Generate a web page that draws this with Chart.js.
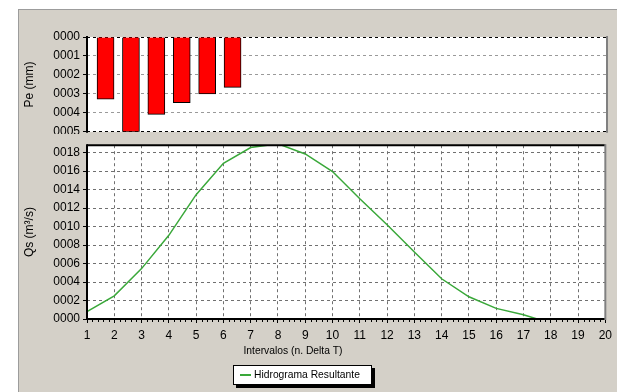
<!DOCTYPE html>
<html>
<head>
<meta charset="utf-8">
<script src="https://cdn.jsdelivr.net/npm/chart.js@4.4.1/dist/chart.umd.min.js"></script>
<style>
  body { margin: 0; background: #fff; width: 617px; height: 392px; overflow: hidden; position: relative; }
  #panel { position: absolute; left: 18px; top: 9px; right: 0; bottom: 0; background: #d4d0c8;
           border-top: 1px solid #9c9c9c; border-left: 1px solid #9c9c9c; }
  #topWrap { position: absolute; left: 0; top: 0; width: 617px; height: 134px; overflow: hidden; }
  #peChart { position: absolute; left: 0; top: 0; }
  #qsChart { position: absolute; left: 0; top: 135px; }
</style>
</head>
<body>
<div id="panel"></div>
<div id="topWrap"><canvas id="peChart" width="617" height="142"></canvas></div>
<canvas id="qsChart" width="617" height="257"></canvas>
<script>
// precipitation bars (top panel)
const peIntervals = [1, 2, 3, 4, 5, 6];
const peValues = [3.28, 5.0, 4.08, 3.47, 3.0, 2.66];
const peTickLabels = ["0000", "0001", "0002", "0003", "0004", "0005"];

// resulting hydrograph (bottom panel)
const qsIntervals = [1, 2, 3, 4, 5, 6, 7, 8, 9, 10, 11, 12, 13, 14, 15, 16, 17, 17.5];
const qsValues = [0.8, 2.5, 5.45, 9.05, 13.45, 16.85, 18.55, 18.95, 17.85, 15.95, 13.0, 10.2, 7.25, 4.35, 2.4, 1.15, 0.45, 0];
const qsTickLabels = ["0000", "0002", "0004", "0006", "0008", "0010", "0012", "0014", "0016", "0018"];

const xTitle = "Intervalos (n. Delta T)";
const seriesName = "Hidrograma Resultante";
const FONT = "'Liberation Sans', Arial, sans-serif";

Chart.defaults.font.family = FONT;
Chart.defaults.font.size = 12;
Chart.defaults.color = "#000";

const plotBackground = {
  id: "plotBackground",
  beforeDraw(chart) {
    const { ctx, chartArea: a } = chart;
    ctx.save();
    ctx.fillStyle = "#fff";
    ctx.fillRect(a.left, a.top, a.right - a.left, a.bottom - a.top);
    ctx.restore();
  }
};

function strokeLine(ctx, x1, y1, x2, y2, color) {
  ctx.strokeStyle = color;
  ctx.beginPath();
  ctx.moveTo(x1, y1);
  ctx.lineTo(x2, y2);
  ctx.stroke();
}

const plotFrame = {
  id: "plotFrame",
  afterDatasetsDraw(chart, args, opts) {
    const { ctx, chartArea: a } = chart;
    ctx.save();
    ctx.lineWidth = 2;
    if (opts.solidEdges) {
      strokeLine(ctx, a.left, a.top, a.right, a.top, "#000");
      strokeLine(ctx, a.left, a.bottom, a.right, a.bottom, "#000");
    }
    strokeLine(ctx, a.left, a.top - 1, a.left, a.bottom + 1, "#000");
    strokeLine(ctx, a.right, a.top - 1, a.right, a.bottom + 1, "#808080");
    ctx.restore();
  }
};

// small ticks between the interval numbers
const minorTicks = {
  id: "minorTicks",
  afterDraw(chart) {
    const { ctx, chartArea: a } = chart;
    const x = chart.scales.x;
    ctx.save();
    ctx.lineWidth = 1;
    ctx.strokeStyle = "#000";
    ctx.beginPath();
    for (let v = x.min; v < x.max; v++) {
      for (let k = 1; k < 5; k++) {
        const px = Math.round(x.getPixelForValue(v + k / 5)) + 0.5;
        ctx.moveTo(px, a.bottom);
        ctx.lineTo(px, a.bottom + 3);
      }
    }
    ctx.stroke();
    ctx.restore();
  }
};

// axis caption and boxed legend under the plot
const footer = {
  id: "footer",
  afterDraw(chart, args, opts) {
    const ctx = chart.ctx;
    const ds = chart.data.datasets[0];
    ctx.save();
    ctx.font = "10.3px " + FONT;
    ctx.fillStyle = "#000";
    ctx.textAlign = "center";
    ctx.textBaseline = "middle";
    ctx.fillText(opts.title, opts.titleX, opts.titleY);

    const w = Math.round(ctx.measureText(ds.label).width) + 33;
    const h = 20;
    const left = opts.legendX, top = opts.legendY;
    ctx.fillStyle = "#000";
    ctx.fillRect(left + 3, top + 3, w, h);
    ctx.fillStyle = "#fff";
    ctx.fillRect(left, top, w, h);
    ctx.lineWidth = 1;
    ctx.strokeStyle = "#000";
    ctx.strokeRect(left + 0.5, top + 0.5, w - 1, h - 1);
    ctx.lineWidth = 2;
    strokeLine(ctx, left + 7, top + h / 2, left + 18, top + h / 2, ds.borderColor);
    ctx.fillStyle = "#000";
    ctx.textAlign = "left";
    ctx.fillText(ds.label, left + 21, top + h / 2 + 0.5);
    ctx.restore();
  }
};

const peChart = new Chart(document.getElementById("peChart"), {
  type: "bar",
  data: {
    datasets: [{
      label: "Pe",
      data: peIntervals.map((x, i) => ({ x, y: peValues[i] })),
      backgroundColor: "#ff0000",
      borderColor: "#000",
      borderWidth: 1,
      barThickness: 17
    }]
  },
  options: {
    responsive: false,
    animation: false,
    devicePixelRatio: 1,
    layout: { padding: { top: 37, right: 10, bottom: 9, left: 0 } },
    plugins: { legend: { display: false }, tooltip: { enabled: false }, plotFrame: { solidEdges: false } },
    scales: {
      x: { type: "linear", min: 0.27, max: 20.74, offset: false, display: false },
      y: {
        min: 0, max: 5, reverse: true,
        afterFit: s => { s.width = 87; },
        border: { display: false, dash: [3, 3] },
        grid: {
          color: c => (c.tick && (c.tick.value === 0 || c.tick.value === 5)) ? "#000" : "#9a9a9a",
          tickColor: "#000", tickLength: 4, tickBorderDash: []
        },
        ticks: { stepSize: 1, padding: 3, callback: v => peTickLabels[v] },
        title: { display: true, text: "Pe (mm)", padding: { top: 22, bottom: 0 } }
      }
    }
  },
  plugins: [plotBackground, plotFrame]
});

const qsChart = new Chart(document.getElementById("qsChart"), {
  type: "line",
  data: {
    datasets: [{
      label: seriesName,
      data: qsIntervals.map((x, i) => ({ x, y: qsValues[i] })),
      borderColor: "#3aa83a",
      borderWidth: 1.5,
      pointRadius: 0,
      tension: 0,
      fill: false
    }]
  },
  options: {
    responsive: false,
    animation: false,
    devicePixelRatio: 1,
    layout: { padding: { top: 8, right: 10, bottom: 28, left: 0 } },
    plugins: {
      legend: { display: false },
      tooltip: { enabled: false },
      plotFrame: { solidEdges: true },
      footer: { title: xTitle, titleX: 293, titleY: 216, legendX: 233, legendY: 230 }
    },
    scales: {
      x: {
        type: "linear", min: 1, max: 20,
        afterFit: s => { s.height = 45; },
        border: { display: false, dash: [3, 3] },
        grid: { color: "#707070", tickColor: "#000", tickLength: 4, tickBorderDash: [] },
        ticks: { stepSize: 1, padding: 5, maxRotation: 0, autoSkip: false }
      },
      y: {
        min: 0, max: 18.8,
        afterFit: s => { s.width = 87; },
        border: { display: false, dash: [3, 3] },
        grid: { color: "#707070", tickColor: "#000", tickLength: 4, tickBorderDash: [] },
        ticks: { stepSize: 2, includeBounds: false, padding: 3, callback: v => qsTickLabels[Math.round(v / 2)] },
        title: { display: true, text: "Qs (m³/s)", padding: { top: 22, bottom: 0 } }
      }
    }
  },
  plugins: [plotBackground, plotFrame, minorTicks, footer]
});
</script>
</body>
</html>
